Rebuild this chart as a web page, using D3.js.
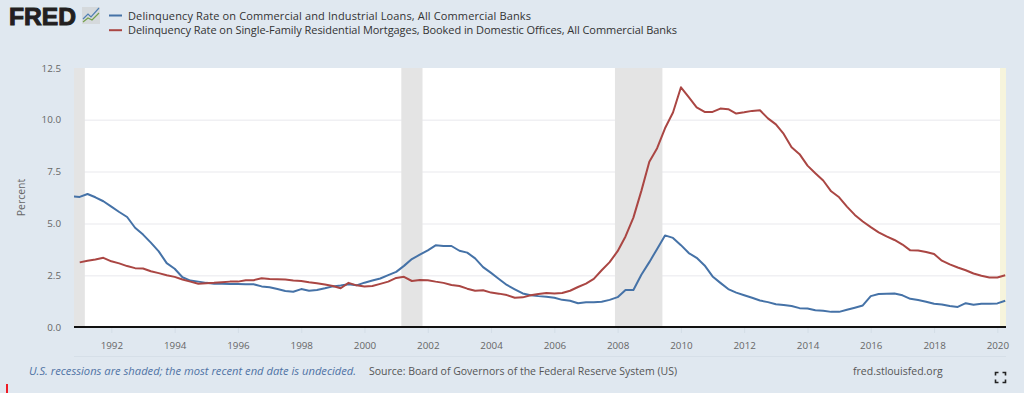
<!DOCTYPE html>
<html lang="en">
<head>
<meta charset="UTF-8">
<script src="https://d3js.org/d3.v7.min.js"></script>
<style>
  html, body { margin: 0; padding: 0; background: #e0e8f0; overflow: hidden; }
  text { font-family: "Open Sans", sans-serif; }
  .tick text { fill: #666; font-size: 9.8px; }
  .domain { display: none; }
</style>
</head>
<body>
<div id="plot"></div>
<script>
// quarterly, 1990 Q4 to 2020 Q2
const quarters = d3.timeMonth.range(new Date(1990, 9, 1), new Date(2020, 6, 1), 3);

const commercial = [
  6.30, 6.28, 6.42, 6.26, 6.07, 5.81, 5.55, 5.31, 4.79, 4.46, 4.07, 3.65, 3.08, 2.81, 2.40, 2.24,
  2.19, 2.13, 2.09, 2.09, 2.08, 2.08, 2.06, 2.06, 1.96, 1.92, 1.83, 1.74, 1.70, 1.83, 1.75,
  1.79, 1.87, 1.96, 2.00, 2.06, 2.01, 2.14, 2.24, 2.34, 2.50, 2.66, 2.95, 3.28, 3.49, 3.70, 3.94,
  3.91, 3.91, 3.68, 3.59, 3.31, 2.89, 2.61, 2.32, 2.03, 1.82, 1.62, 1.53, 1.49, 1.46, 1.41, 1.31,
  1.27, 1.15, 1.19, 1.20, 1.22, 1.31, 1.44, 1.79, 1.79, 2.52, 3.13, 3.77, 4.42, 4.30, 3.95, 3.57,
  3.34, 2.97, 2.44, 2.13, 1.83, 1.66, 1.53, 1.41, 1.28, 1.20, 1.10, 1.06, 1.01, 0.91, 0.89, 0.81,
  0.78, 0.73, 0.73, 0.83, 0.93, 1.04, 1.49, 1.59, 1.61, 1.62, 1.53, 1.36, 1.30, 1.22, 1.12, 1.09,
  1.01, 0.97, 1.15, 1.07, 1.12, 1.12, 1.14, 1.27
];

const mortgages = [
  null, 3.12, 3.20, 3.26, 3.34, 3.17, 3.07, 2.94, 2.84, 2.82, 2.69, 2.60, 2.50, 2.42, 2.29, 2.19,
  2.09, 2.11, 2.13, 2.16, 2.19, 2.19, 2.26, 2.26, 2.35, 2.32, 2.31, 2.29, 2.24, 2.22, 2.16, 2.11,
  2.05, 1.98, 1.87, 2.13, 2.01, 1.96, 1.98, 2.08, 2.19, 2.37, 2.42, 2.22, 2.27, 2.26, 2.19, 2.13,
  2.03, 1.98, 1.85, 1.75, 1.77, 1.66, 1.61, 1.54, 1.41, 1.43, 1.53, 1.59, 1.64, 1.62, 1.64, 1.75,
  1.93, 2.09, 2.32, 2.74, 3.13, 3.66, 4.37, 5.28, 6.57, 7.98, 8.63, 9.59, 10.35, 11.57, 11.09, 10.60,
  10.38, 10.38, 10.54, 10.51, 10.30, 10.36, 10.43, 10.46, 10.07, 9.78, 9.32, 8.67, 8.34, 7.79, 7.42, 7.07,
  6.55, 6.26, 5.81, 5.41, 5.09, 4.82, 4.57, 4.37, 4.20, 3.98, 3.70, 3.69, 3.62, 3.52, 3.20, 3.02,
  2.87, 2.74, 2.58, 2.47, 2.39, 2.39, 2.50
];

const recessionStart = [new Date(1990, 6, 1), new Date(2001, 2, 1), new Date(2007, 11, 1)];
const recessionEnd = [new Date(1991, 2, 1), new Date(2001, 10, 1), new Date(2009, 5, 1)];
const undecidedStart = new Date(2020, 1, 1);

const seriesNames = [
  "Delinquency Rate on Commercial and Industrial Loans, All Commercial Banks",
  "Delinquency Rate on Single-Family Residential Mortgages, Booked in Domestic Offices, All Commercial Banks"
];
const seriesColors = ["#4572a7", "#aa4643"];
const yTicks = [0, 2.5, 5, 7.5, 10, 12.5];

const width = 1024, height = 393;
const margin = {top: 68, right: 18, bottom: 66, left: 74};
const plotW = width - margin.left - margin.right;
const plotH = height - margin.top - margin.bottom;
const legendTextWidth = [403, 549];

const svg = d3.select("#plot").append("svg")
    .attr("width", width)
    .attr("height", height)
    .style("display", "block");

const x = d3.scaleTime()
    .domain([new Date(1990, 9, 27), new Date(2020, 3, 10)])
    .range([margin.left, width - margin.right]);
const y = d3.scaleLinear()
    .domain([0, 12.5])
    .range([height - margin.bottom, margin.top]);

svg.append("defs").append("clipPath").attr("id", "plot-clip")
  .append("rect")
    .attr("x", margin.left)
    .attr("y", margin.top)
    .attr("width", plotW)
    .attr("height", plotH);

svg.append("rect")
    .attr("x", margin.left)
    .attr("y", margin.top)
    .attr("width", plotW)
    .attr("height", plotH)
    .attr("fill", "#fff");

// y axis with grid lines
svg.append("g")
    .attr("class", "y-axis")
    .attr("transform", `translate(${margin.left},0)`)
    .call(d3.axisLeft(y)
      .tickValues(yTicks)
      .tickFormat(d3.format(".1f"))
      .tickSize(0)
      .tickPadding(13))
    .call(g => g.selectAll(".tick").filter(d => d > 0 && d < 12.5).append("line")
      .attr("x2", plotW)
      .attr("stroke", "#f0f0f3")
      .attr("stroke-width", 1.5));

const plotArea = svg.append("g").attr("clip-path", "url(#plot-clip)");

// recession bands
plotArea.selectAll("rect.recession")
  .data(recessionStart)
  .join("rect")
    .attr("class", "recession")
    .attr("x", d => x(d))
    .attr("y", margin.top)
    .attr("width", (d, i) => x(recessionEnd[i]) - x(d))
    .attr("height", plotH)
    .attr("fill", "#e4e4e4");

plotArea.append("rect")
    .attr("x", x(undecidedStart))
    .attr("y", margin.top)
    .attr("width", x.range()[1] - x(undecidedStart))
    .attr("height", plotH)
    .attr("fill", "#f6f4dc");

const line = d3.line()
    .defined(d => d[1] !== null)
    .x(d => x(d[0]))
    .y(d => y(d[1]));

[commercial, mortgages].forEach((values, i) => {
  plotArea.append("path")
      .datum(quarters.map((q, j) => [q, values[j]]))
      .attr("fill", "none")
      .attr("stroke", seriesColors[i])
      .attr("stroke-width", 2)
      .attr("stroke-linejoin", "round")
      .attr("d", line);
});

// x axis
svg.append("g")
    .attr("class", "x-axis")
    .attr("transform", `translate(0,${y(0)})`)
    .call(d3.axisBottom(x)
      .ticks(d3.timeYear.every(2))
      .tickFormat(d3.timeFormat("%Y"))
      .tickSize(6)
      .tickPadding(9))
    .call(g => g.selectAll(".tick line").attr("stroke", "#d3dde6"));

svg.append("line")
    .attr("x1", margin.left)
    .attr("x2", width - margin.right)
    .attr("y1", y(0))
    .attr("y2", y(0))
    .attr("stroke", "#111")
    .attr("stroke-width", 2);

svg.append("line")
    .attr("x1", margin.left)
    .attr("x2", width - margin.right)
    .attr("y1", 356.5)
    .attr("y2", 356.5)
    .attr("stroke", "#d6dfe8");

svg.append("text")
    .attr("transform", `translate(25,${(y(0) + y(12.5)) / 2}) rotate(-90)`)
    .attr("text-anchor", "middle")
    .attr("fill", "#666")
    .style("font-size", "10.5px")
    .text("Percent");

// legend
seriesNames.forEach((name, i) => {
  const ly = 15.5 + i * 14.7;
  svg.append("line")
      .attr("x1", 109).attr("x2", 122)
      .attr("y1", ly).attr("y2", ly)
      .attr("stroke", seriesColors[i])
      .attr("stroke-width", 2);
  svg.append("text")
      .attr("x", 128)
      .attr("y", ly + 4.2)
      .attr("fill", "#333")
      .attr("textLength", legendTextWidth[i])
      .style("font-size", "11px")
      .style("font-weight", 400)
      .text(name);
});

// logo
svg.append("text")
    .attr("x", 9)
    .attr("y", 25)
    .attr("fill", "#231f20")
    .attr("stroke", "#231f20")
    .attr("stroke-width", 1)
    .attr("textLength", 67)
    .attr("lengthAdjust", "spacingAndGlyphs")
    .style("font-family", "'Liberation Sans', sans-serif")
    .style("font-size", "24px")
    .style("font-weight", 700)
    .text("FRED");

const logo = svg.append("g").attr("transform", "translate(82,7)");
logo.append("rect").attr("width", 18).attr("height", 17).attr("fill", "#d5d9dc");
logo.append("path").attr("d", "M1 12L6 7L9 10L17 1").attr("fill", "none").attr("stroke", "#4f7fb3").attr("stroke-width", 1.2);
logo.append("path").attr("d", "M1 15L6 11L10 13L17 6").attr("fill", "none").attr("stroke", "#74a04c").attr("stroke-width", 1.2);

// footer
svg.append("text")
    .attr("x", 29)
    .attr("y", 375)
    .attr("fill", "#4f73a5")
    .style("font-size", "11.2px")
    .style("font-style", "italic")
    .text("U.S. recessions are shaded; the most recent end date is undecided.");

svg.append("text")
    .attr("x", 369)
    .attr("y", 375)
    .attr("fill", "#555")
    .style("font-size", "10.5px")
    .text("Source: Board of Governors of the Federal Reserve System (US)");

svg.append("text")
    .attr("x", 853)
    .attr("y", 375)
    .attr("fill", "#555")
    .style("font-size", "10.5px")
    .text("fred.stlouisfed.org");

// fullscreen icon
svg.append("path")
    .attr("transform", "translate(995.5,372.5)")
    .attr("d", "M0 3V0H3M7 0H10V3M10 7V10H7M3 10H0V7")
    .attr("fill", "none")
    .attr("stroke", "#222")
    .attr("stroke-width", 1.6);

// red mark at the bottom edge
svg.append("rect")
    .attr("x", 6)
    .attr("y", 384)
    .attr("width", 2)
    .attr("height", 9)
    .attr("fill", "#ee1c25");
</script>
</body>
</html>
